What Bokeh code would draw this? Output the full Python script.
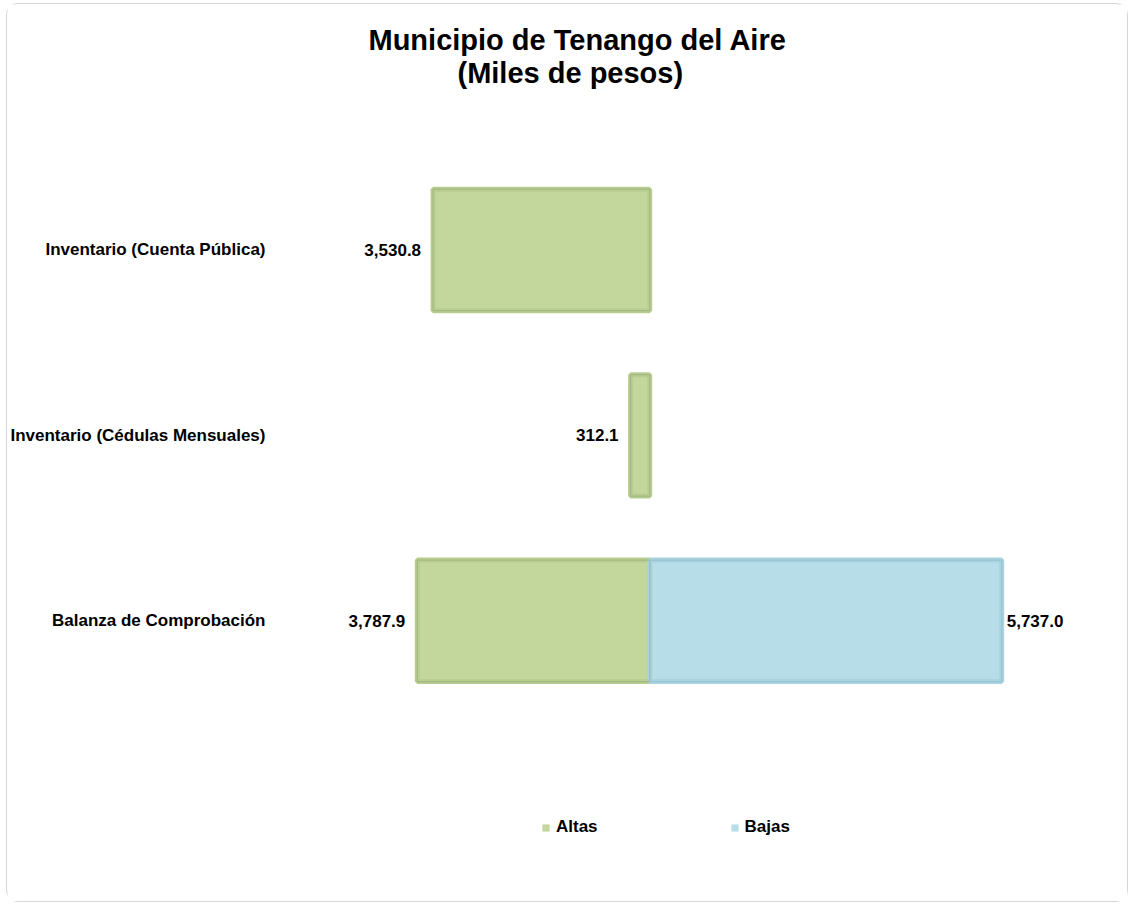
from bokeh.plotting import figure
from bokeh.models import Range1d, Legend, LegendItem, Title, ColumnDataSource, FixedTicker
from bokeh.embed import file_html
from bokeh.resources import INLINE

# ---- data ----
categories = ["Inventario (Cuenta Pública)", "Inventario (Cédulas Mensuales)", "Balanza de Comprobación"]
altas = [3530.8, 312.1, 3787.9]
bajas = [0.0, 0.0, 5737.0]
series_names = ["Altas", "Bajas"]
title_lines = ["Municipio de Tenango del Aire", "(Miles de pesos)"]

FONT = "Liberation Sans"
GREEN = "#C3D69B"
GREEN_BEVEL = "#B8CD90"
GREEN_EDGE = "#A3B983"
BLUE = "#B7DDE8"
BLUE_BEVEL = "#AAD3DF"
BLUE_EDGE = "#96C4D1"

n = len(categories)
ypos = [n - 1 - i for i in range(n)]  # first category on top

p = figure(width=1122, height=899,
           x_range=Range1d(-5463, 7575),
           y_range=Range1d(-1.4486, 2.8703),
           output_backend="svg", toolbar_location=None,
           min_border_left=300, min_border_right=15,
           min_border_top=84, min_border_bottom=14)
p.margin = (3, 0, 0, 6)
p.styles = {"border": "1px solid #d6d6d6", "border-radius": "12px"}

src_a = ColumnDataSource(dict(y=ypos, left=[-v for v in altas], right=[0.0] * n,
                              lab=[f"{v:,.1f}" for v in altas]))
bj = [(yy, v) for yy, v in zip(ypos, bajas) if v > 0]
src_b = ColumnDataSource(dict(y=[yy for yy, _ in bj], left=[0.0] * len(bj), right=[v for _, v in bj],
                              lab=[f"{v:,.1f}" for _, v in bj]))

H = 0.655
ra = p.hbar(y="y", left="left", right="right", height=H, source=src_a, fill_color=GREEN, line_color=None)
rb = p.hbar(y="y", left="left", right="right", height=H, source=src_b, fill_color=BLUE, line_color=None)
# bevel-like borders
p.hbar(y="y", left="left", right="right", height=H, source=src_a, fill_color=None,
       line_color=GREEN_BEVEL, line_width=5)
p.hbar(y="y", left="left", right="right", height=H, source=src_b, fill_color=None,
       line_color=BLUE_BEVEL, line_width=5)
p.hbar(y="y", left="left", right="right", height=H, source=src_a, fill_color=None,
       line_color=GREEN_EDGE, line_width=1.2)
p.hbar(y="y", left="left", right="right", height=H, source=src_b, fill_color=None,
       line_color=BLUE_EDGE, line_width=1.2)

# value labels
p.text(x="left", y="y", text="lab", source=src_a, x_offset=-12, text_align="right",
       text_baseline="middle", text_font={"value": FONT}, text_font_size="17px",
       text_font_style="bold", text_color="black")
p.text(x="right", y="y", text="lab", source=src_b, x_offset=5, text_align="left",
       text_baseline="middle", text_font={"value": FONT}, text_font_size="17px",
       text_font_style="bold", text_color="black")

# axes / grid
p.xaxis.visible = False
p.xgrid.visible = False
p.ygrid.visible = False
p.outline_line_color = None
ya = p.yaxis[0]
ya.ticker = FixedTicker(ticks=ypos)
ya.major_label_overrides = {yy: c for yy, c in zip(ypos, categories)}
ya.axis_line_color = None
ya.major_tick_line_color = None
ya.minor_tick_line_color = None
ya.major_tick_out = 0
ya.major_tick_in = 0
ya.major_label_standoff = 49
ya.major_label_text_font = FONT
ya.major_label_text_font_size = "17px"
ya.major_label_text_font_style = "bold"
ya.major_label_text_color = "black"

# titles (last added is topmost)
title_offsets = [54, 143]
title_standoffs = [-3, 0]
for line, off, so in reversed(list(zip(title_lines, title_offsets, title_standoffs))):
    p.add_layout(Title(text=line, align="left", offset=off, standoff=so, text_line_height=1.05,
                       text_font=FONT, text_font_size="29px", text_font_style="bold",
                       text_color="black"), "above")

legend = Legend(items=[LegendItem(label=series_names[0], renderers=[ra]),
                       LegendItem(label=series_names[1], renderers=[rb])],
                orientation="horizontal", location=(227, 52), spacing=132,
                glyph_width=9, glyph_height=9, label_standoff=6, padding=10, margin=0,
                label_text_font=FONT, label_text_font_size="17px", label_text_font_style="bold",
                label_text_color="black", border_line_color=None, background_fill_alpha=0)
p.add_layout(legend, "center")

open("out.html", "w").write(file_html(p, INLINE))
